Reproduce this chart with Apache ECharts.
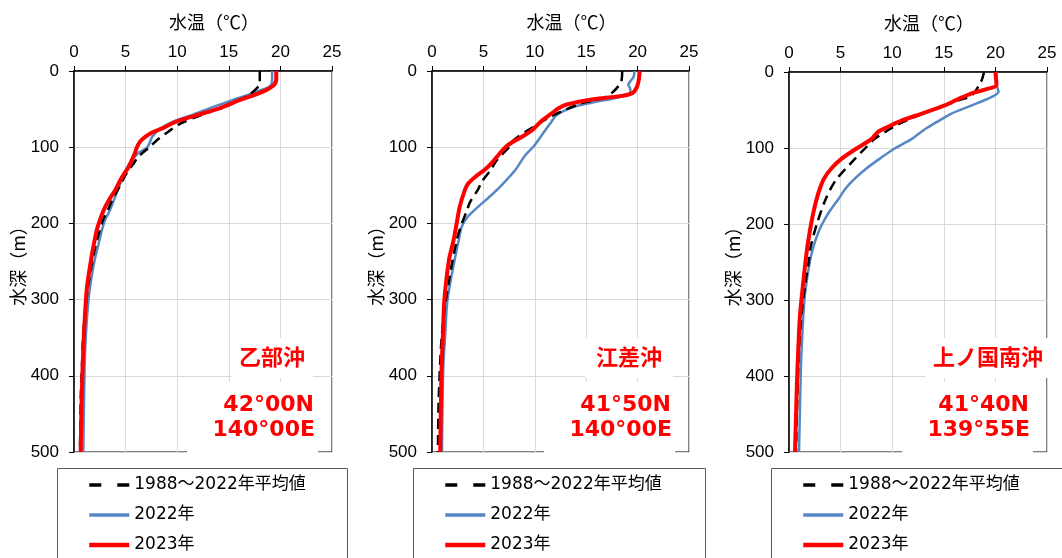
<!DOCTYPE html>
<html><head><meta charset="utf-8">
<script src="https://cdn.jsdelivr.net/npm/echarts@6/dist/echarts.min.js"></script>
<style>html,body{margin:0;padding:0;background:#fff}#c{width:1062px;height:558px}</style>
</head><body><div id="c"></div>
<script>
const NAME_AVG = '1988～2022年平均値';
const NAME_22 = '2022年';
const NAME_23 = '2023年';
const xAxisTitle = '水温（℃）';
const yAxisTitle = '水深（m）';
const stationNames = ['乙部沖', '江差沖', '上ノ国南沖'];
const stationLat = ['42°00N', '41°50N', '41°40N'];
const stationLon = ['140°00E', '140°00E', '139°55E'];

// 乙部沖
const otobeAvgDepth = [0, 15, 20, 32, 43, 52, 60, 69, 80, 89, 100, 113, 121, 134, 152, 169, 182, 196, 235, 279, 301, 344, 388, 432, 500];
const otobeAvgTemp  = [18.0, 18.0, 17.9, 16.9, 15.1, 13.5, 11.9, 10.3, 9.1, 8.2, 7.3, 6.2, 5.8, 5.1, 4.4, 3.7, 3.3, 2.8, 2.0, 1.4, 1.2, 0.9, 0.77, 0.65, 0.58];
const otobe22Depth = [0, 10, 20, 27, 38, 47, 58, 67, 76, 86, 100, 108, 121, 134, 147, 165, 182, 196, 209, 226, 248, 279, 301, 344, 388, 500];
const otobe22Temp  = [19.2, 19.2, 19.0, 17.7, 15.4, 13.5, 11.4, 9.5, 8.3, 7.6, 7.1, 6.2, 5.4, 4.9, 4.5, 4.0, 3.5, 3.0, 2.7, 2.4, 2.0, 1.6, 1.4, 1.16, 1.03, 0.9];
const otobe23Depth = [0, 10, 18, 27, 38, 49, 58, 67, 75, 82, 91, 100, 108, 117, 126, 134, 143, 156, 169, 182, 196, 209, 222, 240, 279, 301, 344, 388, 432, 500];
const otobe23Temp  = [19.6, 19.6, 19.4, 18.3, 16.1, 14.1, 11.9, 9.8, 8.6, 7.4, 6.5, 6.1, 5.9, 5.6, 5.3, 4.9, 4.5, 4.0, 3.4, 2.9, 2.5, 2.2, 2.0, 1.75, 1.3, 1.15, 0.97, 0.84, 0.74, 0.65];

// 江差沖
const esashiAvgDepth = [0, 14, 30, 36, 43, 52, 60, 73, 91, 100, 117, 130, 146, 155, 172, 183, 204, 222, 279, 344, 432, 500];
const esashiAvgTemp  = [18.5, 18.4, 17.4, 16.5, 14.4, 12.8, 11.5, 9.9, 7.9, 7.5, 6.3, 5.7, 4.8, 4.5, 3.7, 3.4, 2.8, 2.4, 1.6, 0.97, 0.65, 0.58];
const esashi22Depth = [0, 8, 18, 24, 30, 36, 41, 47, 58, 69, 78, 97, 112, 130, 148, 165, 178, 191, 204, 222, 248, 301, 344, 388, 500];
const esashi22Temp  = [19.7, 19.6, 19.1, 19.3, 19.2, 17.6, 15.7, 13.8, 12.1, 11.5, 11.0, 10.0, 9.0, 8.1, 6.9, 5.6, 4.5, 3.5, 2.9, 2.6, 2.2, 1.5, 1.3, 1.1, 0.97];
const esashi23Depth = [0, 13, 22, 29, 33, 37, 44, 49, 56, 65, 73, 78, 86, 97, 108, 121, 130, 139, 148, 156, 178, 200, 222, 248, 301, 344, 388, 432, 500];
const esashi23Temp  = [20.2, 20.1, 19.9, 19.5, 18.3, 15.7, 13.1, 12.3, 11.6, 10.7, 10.1, 9.7, 8.8, 7.4, 6.6, 5.8, 5.1, 4.2, 3.5, 3.2, 2.7, 2.4, 2.1, 1.65, 1.2, 1.07, 0.94, 0.87, 0.8];

// 上ノ国南沖
const kaminokuniAvgDepth = [0, 13, 31, 37, 48, 59, 70, 79, 88, 100, 120, 143, 169, 200, 230, 250, 277, 321, 387, 500];
const kaminokuniAvgTemp  = [18.9, 18.6, 17.7, 16.5, 14.3, 12.2, 10.4, 9.3, 8.3, 7.4, 6.0, 4.5, 3.5, 2.7, 2.1, 1.9, 1.6, 1.2, 0.9, 0.68];
const kaminokuni22Depth = [0, 15, 26, 33, 44, 55, 66, 75, 88, 101, 114, 127, 140, 153, 167, 180, 193, 206, 224, 241, 259, 272, 299, 343, 387, 500];
const kaminokuni22Temp  = [20.1, 20.1, 20.3, 19.6, 17.7, 15.7, 14.3, 13.2, 11.9, 10.2, 8.8, 7.5, 6.4, 5.5, 4.8, 4.1, 3.5, 3.0, 2.5, 2.15, 1.9, 1.75, 1.5, 1.3, 1.16, 0.97];
const kaminokuni23Depth = [0, 17, 22, 28, 35, 44, 55, 64, 72, 79, 88, 101, 114, 127, 140, 153, 171, 189, 206, 233, 268, 321, 365, 409, 453, 500];
const kaminokuni23Temp  = [20.0, 20.1, 19.3, 17.7, 16.5, 15.1, 12.8, 10.9, 9.6, 8.6, 8.0, 6.5, 5.1, 4.1, 3.4, 3.0, 2.6, 2.3, 2.06, 1.75, 1.45, 1.06, 0.9, 0.77, 0.68, 0.58];

const panels = [
  {avg:[otobeAvgTemp, otobeAvgDepth], y22:[otobe22Temp, otobe22Depth], y23:[otobe23Temp, otobe23Depth]},
  {avg:[esashiAvgTemp, esashiAvgDepth], y22:[esashi22Temp, esashi22Depth], y23:[esashi23Temp, esashi23Depth]},
  {avg:[kaminokuniAvgTemp, kaminokuniAvgDepth], y22:[kaminokuni22Temp, kaminokuni22Depth], y23:[kaminokuni23Temp, kaminokuni23Depth]}
];

const gridPos = [
  {left: 74, top: 71, width: 258, height: 381},
  {left: 432, top: 71, width: 257, height: 381},
  {left: 789, top: 72, width: 258, height: 380}
];
const legendBox = [
  {x: 57, w: 290},
  {x: 413, w: 292},
  {x: 771, w: 300}
];

const NUM_FONT = 'Liberation Sans';
const CJK_FONT = "'DejaVu Sans','Noto Sans CJK JP'";
const BLUE = '#5587c4';

function pairs(t, d) { return t.map((v, i) => [v, d[i]]); }

const grids = [], xAxes = [], yAxes = [], series = [], legends = [], graphics = [];
gridPos.forEach((g, i) => {
  grids.push(Object.assign({show: true, borderColor: '#000', borderWidth: 1, backgroundColor: 'transparent'}, g));
  xAxes.push({
    type: 'value', gridIndex: i, position: 'top', min: 0, max: 25, interval: 5,
    name: xAxisTitle, nameLocation: 'middle', nameGap: 40,
    nameTextStyle: {fontFamily: 'Noto Sans CJK JP', fontSize: 18, color: '#000', padding: [0, 0, 0, 22]},
    axisLine: {show: true, lineStyle: {color: '#000', width: 1.5}},
    axisTick: {show: true, inside: false, length: 5, lineStyle: {color: '#000'}},
    axisLabel: {fontFamily: NUM_FONT, fontSize: 17, color: '#000', margin: 10},
    splitLine: {show: true, lineStyle: {color: '#d9d9d9', width: 1}}
  });
  yAxes.push({
    type: 'value', gridIndex: i, inverse: true, min: 0, max: 500, interval: 100,
    name: yAxisTitle, nameLocation: 'middle', nameGap: 46,
    nameTextStyle: {fontFamily: 'Noto Sans CJK JP', fontSize: 18, color: '#000'},
    axisLine: {show: true, lineStyle: {color: '#000', width: 1.5}},
    axisTick: {show: true, inside: false, length: 5, lineStyle: {color: '#000'}},
    axisLabel: {fontFamily: NUM_FONT, fontSize: 17, color: '#000', margin: 15},
    splitLine: {show: true, lineStyle: {color: '#d9d9d9', width: 1}}
  });
  const p = panels[i];
  const hidden = {color: 'rgba(0,0,0,0)', borderWidth: 0};
  series.push({name: NAME_22, type: 'line', xAxisIndex: i, yAxisIndex: i, symbol: 'none', smooth: 0.3,
    data: pairs(p.y22[0], p.y22[1]), lineStyle: {color: BLUE, width: 2.5}, itemStyle: hidden, z: 2});
  series.push({name: NAME_AVG, type: 'line', xAxisIndex: i, yAxisIndex: i, symbol: 'none', smooth: 0.3,
    data: pairs(p.avg[0], p.avg[1]), lineStyle: {color: '#000', width: 2.5, type: [10, 6]}, itemStyle: hidden, z: 3});
  series.push({name: NAME_23, type: 'line', xAxisIndex: i, yAxisIndex: i, symbol: 'none', smooth: 0.3,
    data: pairs(p.y23[0], p.y23[1]), lineStyle: {color: '#ff0000', width: 4}, itemStyle: hidden, z: 4});

  const lb = legendBox[i];
  graphics.push({type: 'rect', z: -1, shape: {x: lb.x + 0.5, y: 468.5, width: lb.w, height: 120},
    style: {fill: '#fff', stroke: '#595959', lineWidth: 1}});
  legends.push({
    data: [
      {name: NAME_AVG, lineStyle: {type: [12, 16], width: 3.5, color: '#000'}},
      {name: NAME_22, lineStyle: {width: 3.5, color: BLUE}},
      {name: NAME_23, lineStyle: {width: 4.5, color: '#ff0000'}}
    ],
    orient: 'vertical', left: lb.x + 30, top: 475,
    padding: 0, itemGap: 10, itemWidth: 40, itemHeight: 14,
    textStyle: {fontFamily: CJK_FONT, fontSize: 17, color: '#000', lineHeight: 20},
    selectedMode: false
  });

  const right = g.left + g.width;
  const nameBoxW = [82, 88, 125][i];
  const nameCx = [272, 629, 988][i];
  graphics.push({type: 'rect', z: 100, shape: {x: nameCx - nameBoxW / 2, y: 338, width: nameBoxW, height: 40}, style: {fill: '#fff'}});
  graphics.push({type: 'text', z: 101, x: nameCx, y: 357, style: {text: stationNames[i], fill: '#ff0000',
    font: "bold 22px 'Noto Sans CJK JP'", textAlign: 'center', textVerticalAlign: 'middle', align: 'center', verticalAlign: 'middle'}});
  graphics.push({type: 'rect', z: 100, shape: {x: right - 145, y: 382, width: 131, height: 72}, style: {fill: '#fff'}});
  graphics.push({type: 'text', z: 101, x: right - 18, y: 405, style: {text: stationLat[i], fill: '#ff0000',
    font: "bold 22px 'DejaVu Sans'", textAlign: 'right', textVerticalAlign: 'middle', align: 'right', verticalAlign: 'middle'}});
  graphics.push({type: 'text', z: 101, x: right - 17, y: 430, style: {text: stationLon[i], fill: '#ff0000',
    font: "bold 22px 'DejaVu Sans'", textAlign: 'right', textVerticalAlign: 'middle', align: 'right', verticalAlign: 'middle'}});
});

const chart = echarts.init(document.getElementById('c'), null, {renderer: 'canvas'});
chart.setOption({
  animation: false,
  backgroundColor: '#fff',
  grid: grids, xAxis: xAxes, yAxis: yAxes, series: series, legend: legends,
  graphic: {elements: graphics}
});
</script></body></html>
